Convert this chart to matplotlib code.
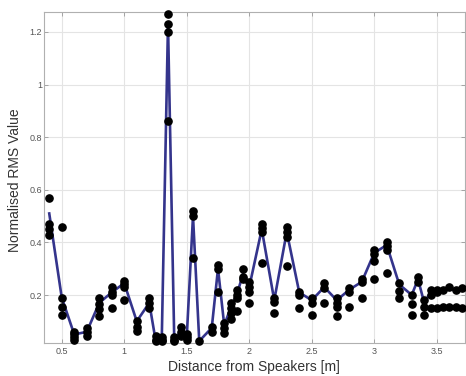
import matplotlib
matplotlib.use("Agg")
import matplotlib.pyplot as plt

plt.rcParams['font.family'] = ['Liberation Sans', 'DejaVu Sans']

# Measurement positions and the averaged RMS curve through them
positions = [0.4, 0.5, 0.6, 0.7, 0.8, 0.9, 1.0, 1.1, 1.2, 1.25, 1.3, 1.35,
             1.4, 1.45, 1.5, 1.55, 1.6, 1.7, 1.75, 1.8, 1.85, 1.9, 1.95,
             2.0, 2.1, 2.2, 2.3, 2.4, 2.5, 2.6, 2.7, 2.8, 2.9, 3.0, 3.1,
             3.2, 3.3, 3.35, 3.4, 3.45, 3.5, 3.55, 3.6, 3.65, 3.7]
mean_rms = [0.51, 0.19, 0.05, 0.06, 0.17, 0.21, 0.245, 0.10, 0.17, 0.03,
            0.03, 1.23, 0.03, 0.06, 0.04, 0.50, 0.025, 0.075, 0.30, 0.085,
            0.15, 0.20, 0.28, 0.23, 0.45, 0.18, 0.44, 0.21, 0.18, 0.23,
            0.18, 0.22, 0.25, 0.36, 0.39, 0.24, 0.20, 0.26, 0.17, 0.21,
            0.215, 0.22, 0.22, 0.22, 0.225]

# Individual repeated measurements at each position
sample_values = [
    [0.57, 0.47, 0.45, 0.43],
    [0.46, 0.19, 0.155, 0.125],
    [0.06, 0.05, 0.04, 0.03],
    [0.075, 0.06, 0.045],
    [0.19, 0.165, 0.145, 0.12],
    [0.23, 0.21, 0.20, 0.15],
    [0.255, 0.24, 0.23, 0.18],
    [0.10, 0.08, 0.065],
    [0.19, 0.17, 0.15],
    [0.045, 0.03, 0.025],
    [0.04, 0.03, 0.025],
    [1.27, 1.23, 1.20, 0.86],
    [0.04, 0.03, 0.025],
    [0.08, 0.06, 0.045],
    [0.05, 0.04, 0.03],
    [0.52, 0.50, 0.34],
    [0.025],
    [0.08, 0.06],
    [0.315, 0.30, 0.21],
    [0.094, 0.075, 0.056],
    [0.17, 0.15, 0.13, 0.11],
    [0.22, 0.20, 0.19, 0.14],
    [0.30, 0.27, 0.26],
    [0.25, 0.23, 0.21, 0.17],
    [0.47, 0.455, 0.44, 0.32],
    [0.19, 0.175, 0.13],
    [0.46, 0.44, 0.42, 0.31],
    [0.21, 0.20, 0.15],
    [0.19, 0.17, 0.125],
    [0.245, 0.225, 0.17],
    [0.19, 0.17, 0.155, 0.12],
    [0.225, 0.21, 0.155],
    [0.26, 0.25, 0.19],
    [0.37, 0.355, 0.33, 0.26],
    [0.40, 0.385, 0.37, 0.285],
    [0.245, 0.215, 0.19],
    [0.20, 0.165, 0.125],
    [0.27, 0.25],
    [0.18, 0.155, 0.125],
    [0.22, 0.20, 0.15],
    [0.22, 0.21, 0.15],
    [0.22, 0.155],
    [0.23, 0.155],
    [0.22, 0.155],
    [0.225, 0.15],
]

x_ticks = [0.5, 1, 1.5, 2, 2.5, 3, 3.5]
x_tick_labels = ['0.5', '1', '1.5', '2', '2.5', '3', '3.5']
y_ticks = [0.2, 0.4, 0.6, 0.8, 1.0, 1.2]
y_tick_labels = ['0.2', '0.4', '0.6', '0.8', '1', '1.2']

fig = plt.figure(figsize=(4.66, 3.76), dpi=100)
ax = fig.add_axes([44 / 466, 1 - 343 / 376, 421 / 466, 331 / 376])

ax.plot(positions, mean_rms, color='#34348c', lw=1.9, zorder=3)

sx = [p for p, vals in zip(positions, sample_values) for _ in vals]
sy = [v for vals in sample_values for v in vals]
ax.plot(sx, sy, linestyle='none', marker='o', ms=5.2, color='black',
        zorder=4, clip_on=False)

ax.set_xlim(0.358, 3.726)
ax.set_ylim(0.0175, 1.276)
ax.set_xticks(x_ticks)
ax.set_xticklabels(x_tick_labels)
ax.set_yticks(y_ticks)
ax.set_yticklabels(y_tick_labels)

ax.grid(True, color='#e4e4e4', lw=0.8)
ax.set_axisbelow(True)
for s in ax.spines.values():
    s.set_color('#b0b0b0')
    s.set_linewidth(0.8)
ax.tick_params(direction='in', length=3, width=0.6, color='#999999',
               labelsize=6.5, labelcolor='#555555', top=True, right=True)
ax.tick_params(axis='x', pad=3)
ax.tick_params(axis='y', pad=1.5)

fig.text(254 / 466, 1 - 367 / 376, 'Distance from Speakers [m]',
         ha='center', va='center', fontsize=10, color='#333333')
fig.text(15 / 466, 1 - 180 / 376, 'Normalised RMS Value', rotation=90,
         ha='center', va='center', fontsize=10, color='#333333')

fig.savefig('out.png', dpi=100)
